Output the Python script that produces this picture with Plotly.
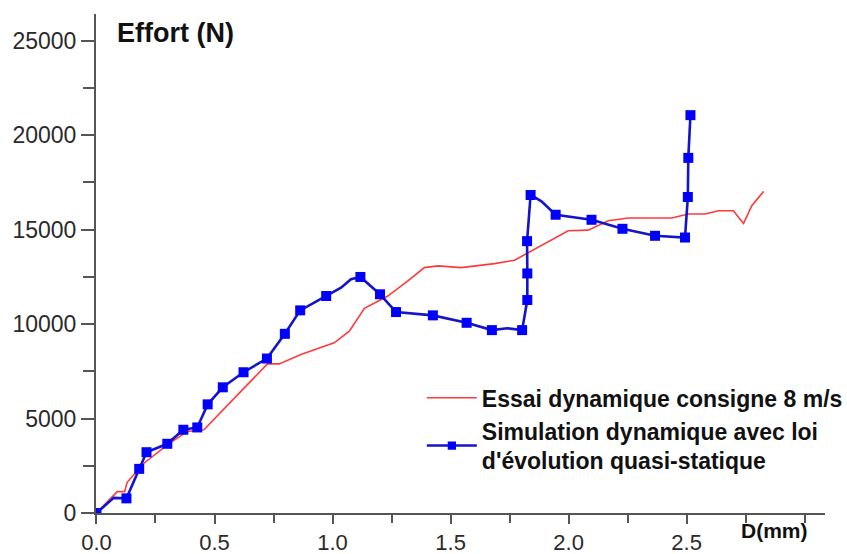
import plotly.graph_objects as go

# Experimental curve (red)
essai_d = [0.0, 0.088, 0.119, 0.130, 0.201, 0.300, 0.385, 0.455, 0.724, 0.774, 0.866, 0.951,
           1.007, 1.071, 1.135, 1.234, 1.319, 1.389, 1.446, 1.545, 1.686, 1.771, 1.871, 1.998,
           2.083, 2.168, 2.253, 2.437, 2.507, 2.578, 2.635, 2.698, 2.741, 2.776, 2.826]
essai_f = [0, 1130, 1130, 1625, 2634, 3611, 4317, 4407, 7891, 7891, 8390, 8740,
           9006, 9627, 10832, 11485, 12282, 12988, 13079, 12988, 13201, 13381, 14050, 14937,
           14974, 15468, 15611, 15611, 15824, 15824, 15999, 15999, 15325, 16265, 17024]

# Simulation curve (blue); sim_mark = True where a square marker is drawn
sim_d = [0.0, 0.073, 0.127, 0.181, 0.212, 0.300, 0.368, 0.427, 0.471, 0.535, 0.623, 0.722,
         0.798, 0.863, 0.973, 1.036, 1.078, 1.118, 1.201, 1.269, 1.425, 1.568, 1.675, 1.740,
         1.803, 1.812, 1.825, 1.825, 1.824, 1.839, 1.885, 1.945, 2.097, 2.228, 2.366, 2.493,
         2.496, 2.505, 2.507, 2.516]
sim_f = [0, 800, 775, 2336, 3218, 3664, 4407, 4529, 5751, 6653, 7450, 8177,
         9484, 10726, 11485, 11925, 12370, 12494, 11576, 10636, 10461, 10068, 9680, 9780,
         9680, 10250, 11273, 12680, 14390, 16833, 16498, 15787, 15521, 15043, 14672, 14581,
         15293, 16727, 18797, 21059]
sim_mark = [True, False, True, True, True, True, True, True, True, True, True, True,
            True, True, True, False, False, True, True, True, True, True, True, False,
            True, False, True, True, True, True, False, True, True, True, True, True,
            False, True, True, True]

x_tickvals = [0.0, 0.5, 1.0, 1.5, 2.0, 2.5]
x_ticktext = ["0.0", "0.5", "1.0", "1.5", "2.0", "2.5"]
y_tickvals = [0, 5000, 10000, 15000, 20000, 25000]
y_ticktext = ["0", "5000", "10000", "15000", "20000", "25000"]

FONT = "Liberation Sans, Arial, sans-serif"
AXIS_COLOR = "#555555"
TICK_COLOR = "#2a2a2a"

fig = go.Figure()
fig.add_trace(go.Scatter(
    x=essai_d, y=essai_f, mode="lines",
    name="Essai dynamique consigne 8 m/s",
    line=dict(color="#ff3a3a", width=1.6),
))
fig.add_trace(go.Scatter(
    x=sim_d, y=sim_f, mode="lines+markers",
    name="Simulation dynamique avec loi<br>d'évolution quasi-statique",
    line=dict(color="#1414c8", width=2.6),
    marker=dict(symbol="square", color="#0000ff", opacity=1,
                line=dict(width=0),
                size=[10 if m else 0 for m in sim_mark]),
))

fig.update_layout(
    width=847, height=554,
    margin=dict(l=96, r=22, t=14, b=41, autoexpand=False),
    paper_bgcolor="white", plot_bgcolor="white",
    font=dict(family=FONT, size=23, color=TICK_COLOR),
    showlegend=True,
    legend=dict(
        x=0.447, y=0.274, xanchor="left", yanchor="top",
        bgcolor="rgba(0,0,0,0)",
        font=dict(family=FONT, size=23, color="#111111", weight="bold"),
        itemwidth=50, tracegroupgap=0,
    ),
    xaxis=dict(
        range=[-0.002, 3.086], showgrid=False, zeroline=False, automargin=False,
        showline=True, linecolor=AXIS_COLOR, linewidth=2,
        ticks="outside", ticklen=9, tickwidth=2, tickcolor=AXIS_COLOR,
        tickvals=x_tickvals, ticktext=x_ticktext, ticklabelstandoff=0,
        minor=dict(dtick=0.25, tick0=0, ticks="outside", ticklen=8,
                   tickwidth=2, tickcolor=AXIS_COLOR),
        tickfont=dict(family=FONT, size=22, color=TICK_COLOR),
    ),
    yaxis=dict(
        range=[0, 26413], showgrid=False, zeroline=False, automargin=False,
        showline=True, linecolor=AXIS_COLOR, linewidth=2,
        ticks="outside", ticklen=13, tickwidth=2, tickcolor=AXIS_COLOR,
        tickvals=y_tickvals, ticktext=y_ticktext, ticklabelstandoff=0,
        minor=dict(dtick=2500, tick0=0, ticks="outside", ticklen=11,
                   tickwidth=2, tickcolor=AXIS_COLOR),
        tickfont=dict(family=FONT, size=23, color=TICK_COLOR),
    ),
    annotations=[
        dict(text="Effort (N)", xref="paper", yref="paper", x=0.026, y=0.962,
             xanchor="left", yanchor="middle", showarrow=False,
             font=dict(family=FONT, size=27, color="#111111", weight="bold")),
        dict(text="D(mm)", xref="paper", yref="paper", x=0.931, y=-0.036,
             xanchor="center", yanchor="middle", showarrow=False,
             font=dict(family=FONT, size=21, color="#111111", weight="bold")),
    ],
)

# remove the browser's default page margin so the figure sits at the window's corner
fig.write_html("out.html", config={"displayModeBar": False},
               post_script="document.body.style.margin='0';")
